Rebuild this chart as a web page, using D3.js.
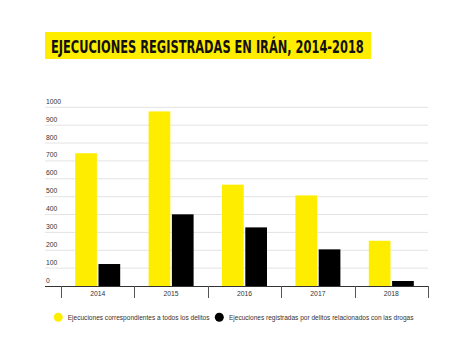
<!DOCTYPE html>
<html><head><meta charset="utf-8">
<script src="https://cdn.jsdelivr.net/npm/d3@7"></script>
<style>body{margin:0;background:#fff}svg{display:block}</style>
</head><body>
<svg id="c" width="474" height="349"></svg>
<script>
const title = "EJECUCIONES REGISTRADAS EN IRÁN, 2014-2018";
const years = ["2014","2015","2016","2017","2018"];
const totalExec = [743, 977, 567, 507, 253];
const drugExec = [123, 401, 328, 205, 28];
const yTicks = [0,100,200,300,400,500,600,700,800,900,1000];
const seriesNames = ["Ejecuciones correspondientes a todos los delitos","Ejecuciones registradas por delitos relacionados con las drogas"];
const colors = ["#FFED00","#000000"];

const svg = d3.select("#c");
const font = "'Liberation Sans', Arial, sans-serif";

// fit text to a width by horizontal scaling
function fitText(sel, x0, y0, w) {
  const nat = sel.node().getComputedTextLength();
  const s = w / nat;
  sel.attr("x",0).attr("y",0).attr("transform",`translate(${x0},${y0}) scale(${s},1)`);
}

// title
svg.append("rect").attr("x",45).attr("y",32).attr("width",326).attr("height",27).attr("fill","#FFED00");
const t = svg.append("text").text(title)
  .attr("font-family","'DejaVu Sans Condensed','Liberation Sans Narrow',sans-serif")
  .attr("font-weight","bold").attr("font-size",18).attr("fill","#111");
fitText(t, 51, 52.7, 313);

const y = d3.scaleLinear().domain([0,1000]).range([286,107.3]);
const x = d3.scaleBand().domain(years).range([61,428]);
const gridX0 = 45, gridX1 = 428;

// gridlines
svg.append("g").selectAll("line").data(yTicks.filter(d=>d>0)).join("line")
  .attr("x1",gridX0).attr("x2",gridX1).attr("y1",d=>y(d)).attr("y2",d=>y(d))
  .attr("stroke","#e3e3e3").attr("stroke-width",1);
// y labels
svg.append("g").selectAll("text").data(yTicks).join("text")
  .attr("x",46).attr("y",d=>y(d)-3.5).text(d=>d)
  .attr("font-family",font).attr("font-size",6.8).attr("fill","#333");

// bars
const bw = 21.7, gap = 1.6;
const bars = svg.append("g");
years.forEach((yr,i)=>{
  const c = x(yr) + x.bandwidth()/2;
  bars.append("rect").attr("x",c-gap/2-bw).attr("width",bw)
    .attr("y",y(totalExec[i])).attr("height",y(0)-y(totalExec[i])).attr("fill",colors[0]);
  bars.append("rect").attr("x",c+gap/2).attr("width",bw)
    .attr("y",y(drugExec[i])).attr("height",y(0)-y(drugExec[i])).attr("fill",colors[1]);
});

// x axis
svg.append("line").attr("x1",gridX0).attr("x2",gridX1+0.5).attr("y1",286.5).attr("y2",286.5)
  .attr("stroke","#333").attr("stroke-width",1);
const bounds = years.map(d=>x(d)).concat([x.range()[1]]);
svg.append("g").selectAll("line").data(bounds).join("line")
  .attr("x1",d=>Math.round(d)+0.5).attr("x2",d=>Math.round(d)+0.5).attr("y1",286).attr("y2",298)
  .attr("stroke","#555").attr("stroke-width",1);
svg.append("g").selectAll("text").data(years).join("text")
  .attr("x",d=>x(d)+x.bandwidth()/2).attr("y",295.5).attr("text-anchor","middle").text(d=>d)
  .attr("font-family",font).attr("font-size",6.8).attr("fill","#333");

// legend
const leg = [{cx:58.3,tx:67.7,w:142},{cx:219.3,tx:229,w:185}];
leg.forEach((l,i)=>{
  svg.append("circle").attr("cx",l.cx).attr("cy",317.3).attr("r",4.5).attr("fill",colors[i]);
  const lt = svg.append("text").text(seriesNames[i])
    .attr("font-family",font).attr("font-size",6.8).attr("fill","#333");
  fitText(lt, l.tx, 319.8, l.w);
});
</script>
</body></html>
